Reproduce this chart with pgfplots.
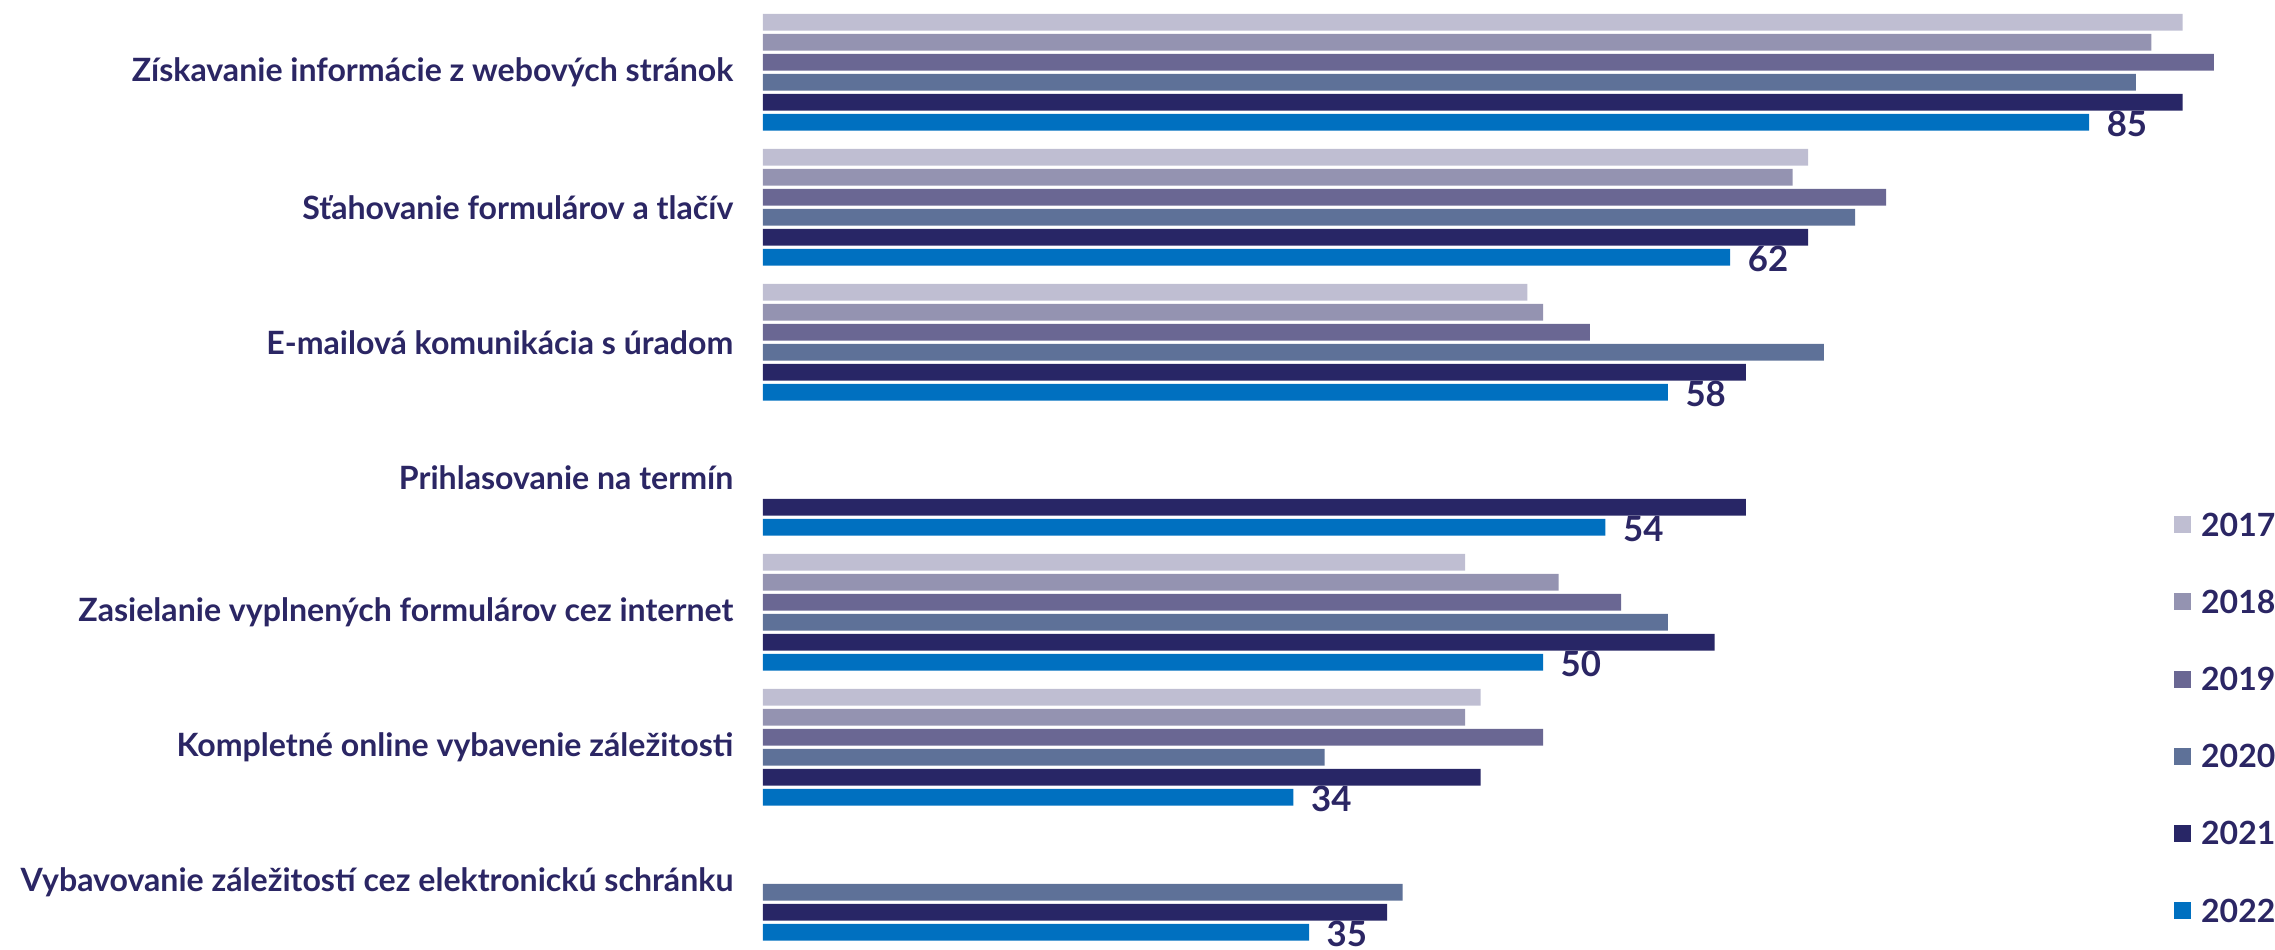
\documentclass[border=0pt]{standalone}
\usepackage{fontspec}
\setmainfont{Lato}
\usepackage{pgfplots}
\pgfplotsset{compat=1.18}

\definecolor{c2017}{RGB}{191,190,210}
\definecolor{c2018}{RGB}{148,147,177}
\definecolor{c2019}{RGB}{106,103,147}
\definecolor{c2020}{RGB}{94,113,152}
\definecolor{c2021}{RGB}{40,38,102}
\definecolor{c2022}{RGB}{0,112,192}
\definecolor{navytext}{RGB}{43,38,100}

\begin{document}
\begin{tikzpicture}
\begin{axis}[
  name=ax,
  scale only axis,
  width=151.2mm, height=94.9mm,
  xbar, bar width=0.1237,
  xmin=0, xmax=96.92,
  ymin=-0.535, ymax=6.495,
  y dir=reverse,
  /pgf/number format/assume math mode=true,
  axis line style={draw=none},
  major tick length=0pt,
  xtick=\empty,
  ytick={0,1,2,3,4,5,6},
  yticklabels={Získavanie informácie z webových stránok,
               Sťahovanie formulárov a tlačív,
               E-mailová komunikácia s úradom,
               Prihlasovanie na termín,
               Zasielanie vyplnených formulárov cez internet,
               Kompletné online vybavenie záležitosti,
               Vybavovanie záležitostí cez elektronickú schránku},
  yticklabel style={font=\fontsize{9.13}{10}\selectfont\bfseries, text=navytext,
                    anchor=east, inner sep=0pt, xshift=-2.9mm},
  clip=false,
  legend style={draw=none, fill=none, inner sep=0pt,
                at={(axis description cs:0.9325,0.46)}, anchor=north west,
                font=\fontsize{9.1}{10}\selectfont\bfseries, text=navytext,
                row sep=5.42mm,
                nodes={inner sep=0pt, text height=2.3mm, text depth=0pt, anchor=west},
                /tikz/every odd column/.append style={column sep=1mm}},
  legend cell align=left,
  legend image code/.code={\fill[#1] (0mm,-0.85mm) rectangle (1.75mm,0.85mm);},
]
% 2017
\addplot[fill=c2017, draw=none, bar shift=-0.3704] coordinates
  {(91,0) (67,1) (49,2) (45,4) (46,5)};
% 2018
\addplot[fill=c2018, draw=none, bar shift=-0.2222] coordinates
  {(89,0) (66,1) (50,2) (51,4) (45,5)};
% 2019
\addplot[fill=c2019, draw=none, bar shift=-0.0741] coordinates
  {(93,0) (72,1) (53,2) (55,4) (50,5)};
% 2020
\addplot[fill=c2020, draw=none, bar shift=0.0741] coordinates
  {(88,0) (70,1) (68,2) (58,4) (36,5) (41,6)};
% 2021
\addplot[fill=c2021, draw=none, bar shift=0.2222] coordinates
  {(91,0) (67,1) (63,2) (63,3) (61,4) (46,5) (40,6)};
% 2022, with its values written beside the bars
\addplot[fill=c2022, draw=none, bar shift=0.3704,
  nodes near coords,
  nodes near coords style={anchor=west, xshift=1.7mm, yshift=-0.15mm, inner sep=0pt,
    font=\fontsize{9.9}{11}\selectfont\bfseries, text=navytext}] coordinates
  {(85,0) (62,1) (58,2) (54,3) (50,4) (34,5) (35,6)};
\legend{2017,2018,2019,2020,2021,2022}
\end{axis}
\pgfresetboundingbox
\path[use as bounding box] ([xshift=-76.3mm]ax.south west) rectangle (ax.north east);
\end{tikzpicture}
\end{document}
